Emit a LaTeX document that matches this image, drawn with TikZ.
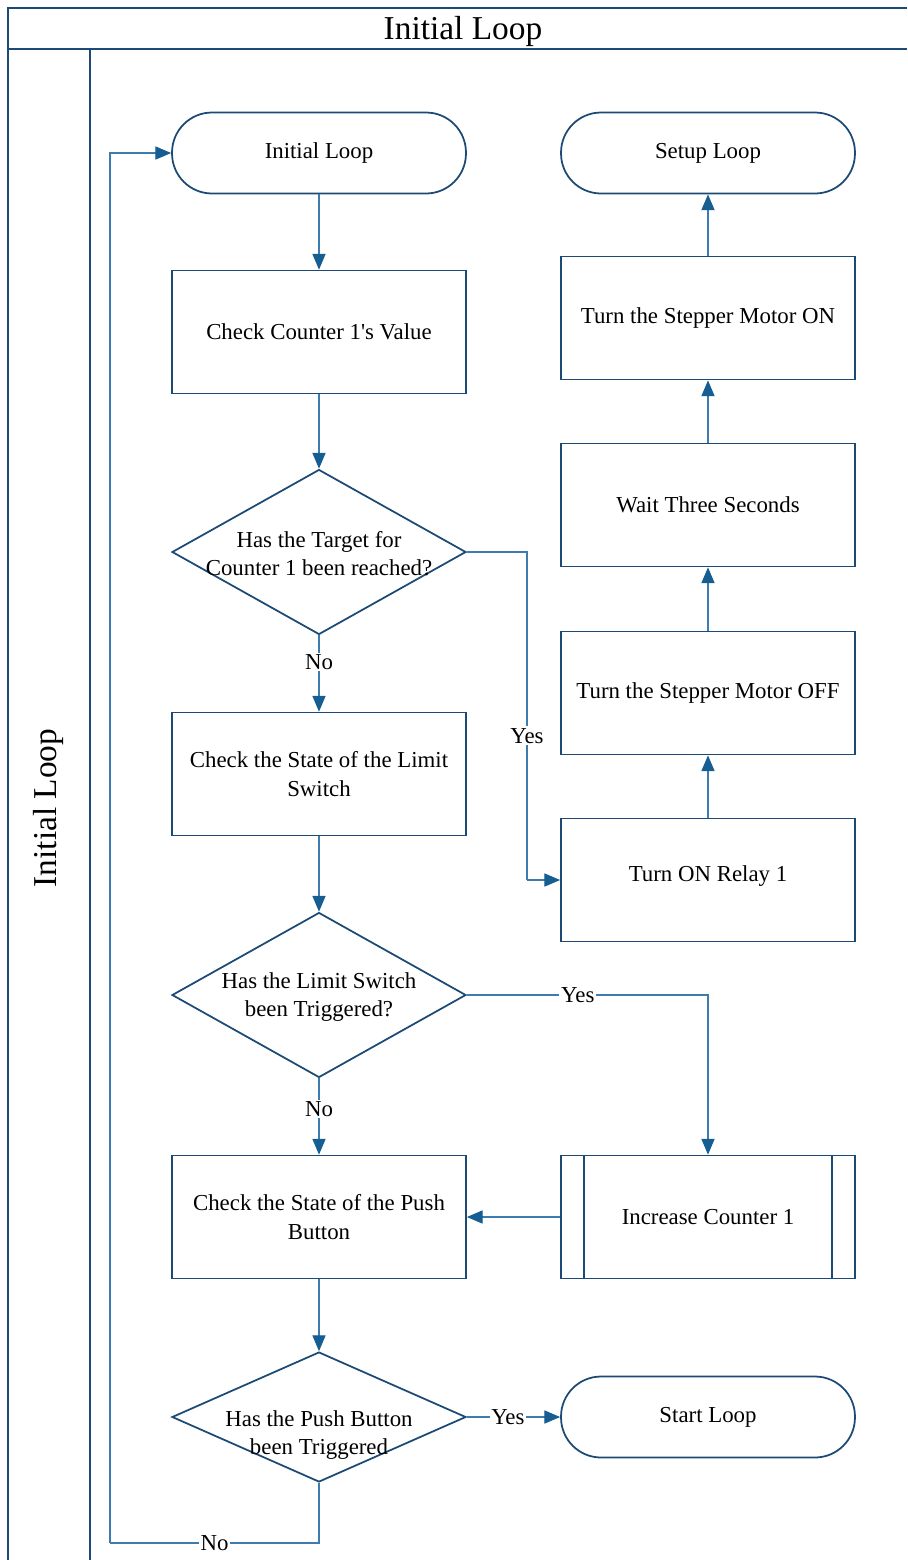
\documentclass[tikz,border=0pt]{standalone}
\usepackage{fontspec}
\setmainfont{Liberation Serif}
\usetikzlibrary{shapes.geometric,arrows.meta}

\definecolor{shapeblue}{RGB}{28,74,116}
\definecolor{flowblue}{RGB}{62,124,175}
\definecolor{tipblue}{RGB}{22,94,145}

\tikzset{
  box/.style={
    draw=shapeblue, line width=1pt, rectangle,
    minimum width=5.88cm, minimum height=2.46cm,
    align=center, font=\fontsize{13}{16}\selectfont
  },
  terminal/.style={
    box, rounded corners=0.8cm, minimum height=1.62cm
  },
  decision/.style={
    draw=shapeblue, line width=1pt, diamond, inner sep=0pt,
    minimum width=5.88cm, minimum height=3.3cm
  },
  flow/.style={
    draw=flowblue, line width=0.6pt,
    -{Triangle[length=9pt,width=7.5pt,fill=tipblue,color=tipblue]}
  },
  link/.style={draw=flowblue, line width=0.6pt},
  lbl/.style={fill=white, inner sep=1pt, font=\fontsize{13}{16}\selectfont},
  lane/.style={draw=shapeblue, line width=1.2pt}
}

\begin{document}
\begin{tikzpicture}[x=0.02cm, y=-0.02cm]
  \useasboundingbox (0,0) rectangle (907,1560);

  % pool header and lane
  \draw[lane] (907,8) -- (8,8) -- (8,1560);
  \draw[lane] (8,49) -- (907,49);
  \draw[lane] (90,49) -- (90,1560);
  \node (pooltitle) at (463,31) {\fontsize{19}{22}\selectfont Initial Loop};
  \node[rotate=90] (lanetitle) at (48,808) {\fontsize{19}{22}\selectfont Initial Loop};

  % left column
  \node[terminal] (init) at (319,153) {Initial Loop};
  \node[box] (check1) at (319,332) {Check Counter 1\textquotesingle s Value};
  \node[decision, label={[align=center, font=\fontsize{13}{16}\selectfont, yshift=-0.04cm]center:Has the Target for\\Counter 1 been reached?}]
    (target) at (319,552) {};
  \node[box] (limit) at (319,774) {Check the State of the Limit\\Switch};
  \node[decision, label={[align=center, font=\fontsize{13}{16}\selectfont, yshift=-0.04cm]center:Has the Limit Switch\\been Triggered?}]
    (limithit) at (319,995) {};
  \node[box] (push) at (319,1217) {Check the State of the Push\\Button};
  \node[decision, minimum height=2.6cm, label={[align=center, font=\fontsize{13}{16}\selectfont, yshift=-0.36cm]center:Has the Push Button\\been Triggered}]
    (pushhit) at (319,1417) {};

  % right column
  \node[terminal] (setup) at (708,153) {Setup Loop};
  \node[box] (motoron) at (708,318) {Turn the Stepper Motor ON};
  \node[box] (wait) at (708,505) {Wait Three Seconds};
  \node[box] (motoroff) at (708,693) {Turn the Stepper Motor OFF};
  \node[box] (relay) at (708,880) {\raisebox{0.24cm}{Turn ON Relay 1}};
  \node[box] (inc) at (708,1217) {Increase Counter 1};
  \draw[shapeblue, line width=1pt]
    ([xshift=0.48cm]inc.north west) -- ([xshift=0.48cm]inc.south west)
    ([xshift=-0.48cm]inc.north east) -- ([xshift=-0.48cm]inc.south east);
  \node[terminal] (start) at (708,1417) {Start Loop};

  \coordinate (jog) at (527,552);
  \coordinate (loopback) at (110,1543);

  % connectors
  \draw[flow] (init) -- (check1);
  \draw[flow] (check1) -- (target);
  \draw[flow] (target.south) -- node[lbl, pos=0.35] {No} (limit.north);
  \draw[link] (target.east) -- (jog) -- node[lbl, pos=0.56] {Yes} (jog |- relay.west);
  \draw[flow] (jog |- relay.west) -- (relay.west);
  \draw[flow] (relay) -- (motoroff);
  \draw[flow] (motoroff) -- (wait);
  \draw[flow] (wait) -- (motoron);
  \draw[flow] (motoron) -- (setup);
  \draw[flow] (limit) -- (limithit);
  \draw[flow] (limithit.east) -| node[lbl, pos=0.23] {Yes} (inc.north);
  \draw[flow] (limithit.south) -- node[lbl, pos=0.4] {No} (push.north);
  \draw[flow] (inc.west) -- (push.east);
  \draw[flow] (push) -- (pushhit);
  \draw[flow] (pushhit.east) -- node[lbl, pos=0.44] {Yes} (start.west);
  \draw[link] (pushhit.south) -- (pushhit.south |- loopback) -- node[lbl] {No} (loopback);
  \draw[flow] (loopback) |- (init.west);
\end{tikzpicture}
\end{document}
